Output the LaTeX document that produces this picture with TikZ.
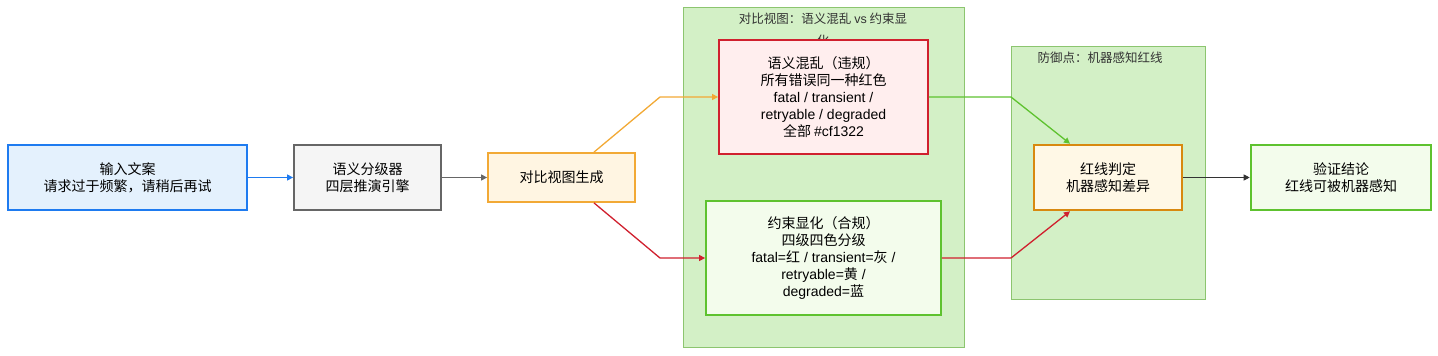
\documentclass[tikz,border=0pt]{standalone}
\usepackage{fontspec}
\setmainfont{Noto Sans CJK SC}
\newfontfamily\latfont{Liberation Sans}
\usepackage{xcolor}
\usepackage{tikz}
\usetikzlibrary{arrows.meta, positioning}

\definecolor{inblue}{HTML}{1E7BF0}
\definecolor{inbluefill}{HTML}{E4F1FD}
\definecolor{engray}{HTML}{666666}
\definecolor{engrayfill}{HTML}{F5F5F5}
\definecolor{genorange}{HTML}{F2A935}
\definecolor{genorangefill}{HTML}{FFF5E2}
\definecolor{zonegreen}{HTML}{8CC56F}
\definecolor{zonefill}{HTML}{D3F0C6}
\definecolor{badred}{HTML}{D0202E}
\definecolor{badredfill}{HTML}{FFEEEE}
\definecolor{okgreen}{HTML}{5EC22F}
\definecolor{okgreenfill}{HTML}{F3FCEC}
\definecolor{judgeorange}{HTML}{D8890F}
\definecolor{judgefill}{HTML}{FFF8E6}
\definecolor{arrowdark}{HTML}{333333}

\begin{document}
\begin{tikzpicture}[
        x=1pt,
        y=-1pt,
        box/.style={draw,inner sep=0pt,align=center,line width=1.8pt,font=\fontsize{14}{17}\selectfont},
        zone/.style={draw=zonegreen,fill=zonefill,line width=0.9pt},
        zonetitle/.style={align=center,font=\fontsize{12.5}{22}\selectfont,text=black!80},
        flow/.style={-{Triangle[length=6pt,width=6pt]},line width=1.3pt}
    ]
        \useasboundingbox (0,0) rectangle (1438,356);
        % containers
        \draw[zone] (683,7) rectangle (964,347);
        \node[zonetitle,anchor=north] (titlea) at (823,9) {对比视图：语义混乱 {\latfont vs} 约束显\\化};
        \draw[zone] (1011,46) rectangle (1205,299);
        \node[zonetitle,anchor=north] (titleb) at (1100,48) {防御点：机器感知红线};
        % pipeline
        \node[box,draw=inblue,fill=inbluefill,minimum width=239pt,minimum height=65pt] (input) at (127.5,177.5) {输入文案\\请求过于频繁，请稍后再试};
        \node[box,draw=engray,fill=engrayfill,minimum width=147pt,minimum height=65pt] (engine) at (367.5,177.5) {语义分级器\\四层推演引擎};
        \node[box,draw=genorange,fill=genorangefill,minimum width=147pt,minimum height=49pt] (gen) at (561.5,177.5) {对比视图生成};
        \node[box,draw=badred,fill=badredfill,minimum width=209pt,minimum height=114pt] (chaos) at (823.5,97) {语义混乱（违规）\\所有错误同一种红色\\{\latfont fatal / transient /}\\{\latfont retryable / degraded}\\全部 {\latfont\#cf1322}};
        \node[box,draw=okgreen,fill=okgreenfill,minimum width=235pt,minimum height=114pt] (tiers) at (823.5,258) {约束显化（合规）\\四级四色分级\\{\latfont fatal=}红{\latfont\ / transient=}灰{\latfont\ /}\\{\latfont retryable=}黄{\latfont\ /}\\{\latfont degraded=}蓝};
        \node[box,draw=judgeorange,fill=judgefill,minimum width=148pt,minimum height=65pt,line width=2.6pt] (judge) at (1108,177.5) {红线判定\\机器感知差异};
        \node[box,draw=okgreen,fill=okgreenfill,minimum width=180pt,minimum height=65pt,line width=2.6pt] (verdict) at (1341,177.5) {验证结论\\红线可被机器感知};
        % connectors
        \coordinate (bendup) at (660,97);
        \coordinate (benddown) at (660,258);
        \coordinate (joinup) at (1011,97);
        \coordinate (joindown) at (1011,258);
        \draw[flow,inblue] (input) -- (engine);
        \draw[flow,engray] (engine) -- (gen);
        \draw[flow,genorange] (gen.north east -| 594,0) -- (bendup) -- (chaos.west);
        \draw[flow,badred] (gen.south east -| 594,0) -- (benddown) -- (tiers.west);
        \draw[flow,okgreen] (chaos.east) -- (joinup) -- (judge.north west -| 1070,0);
        \draw[flow,badred] (tiers.east) -- (joindown) -- (judge.south west -| 1070,0);
        \draw[flow,arrowdark,line width=0.7pt] (judge) -- (verdict);
    \end{tikzpicture}
\end{document}
